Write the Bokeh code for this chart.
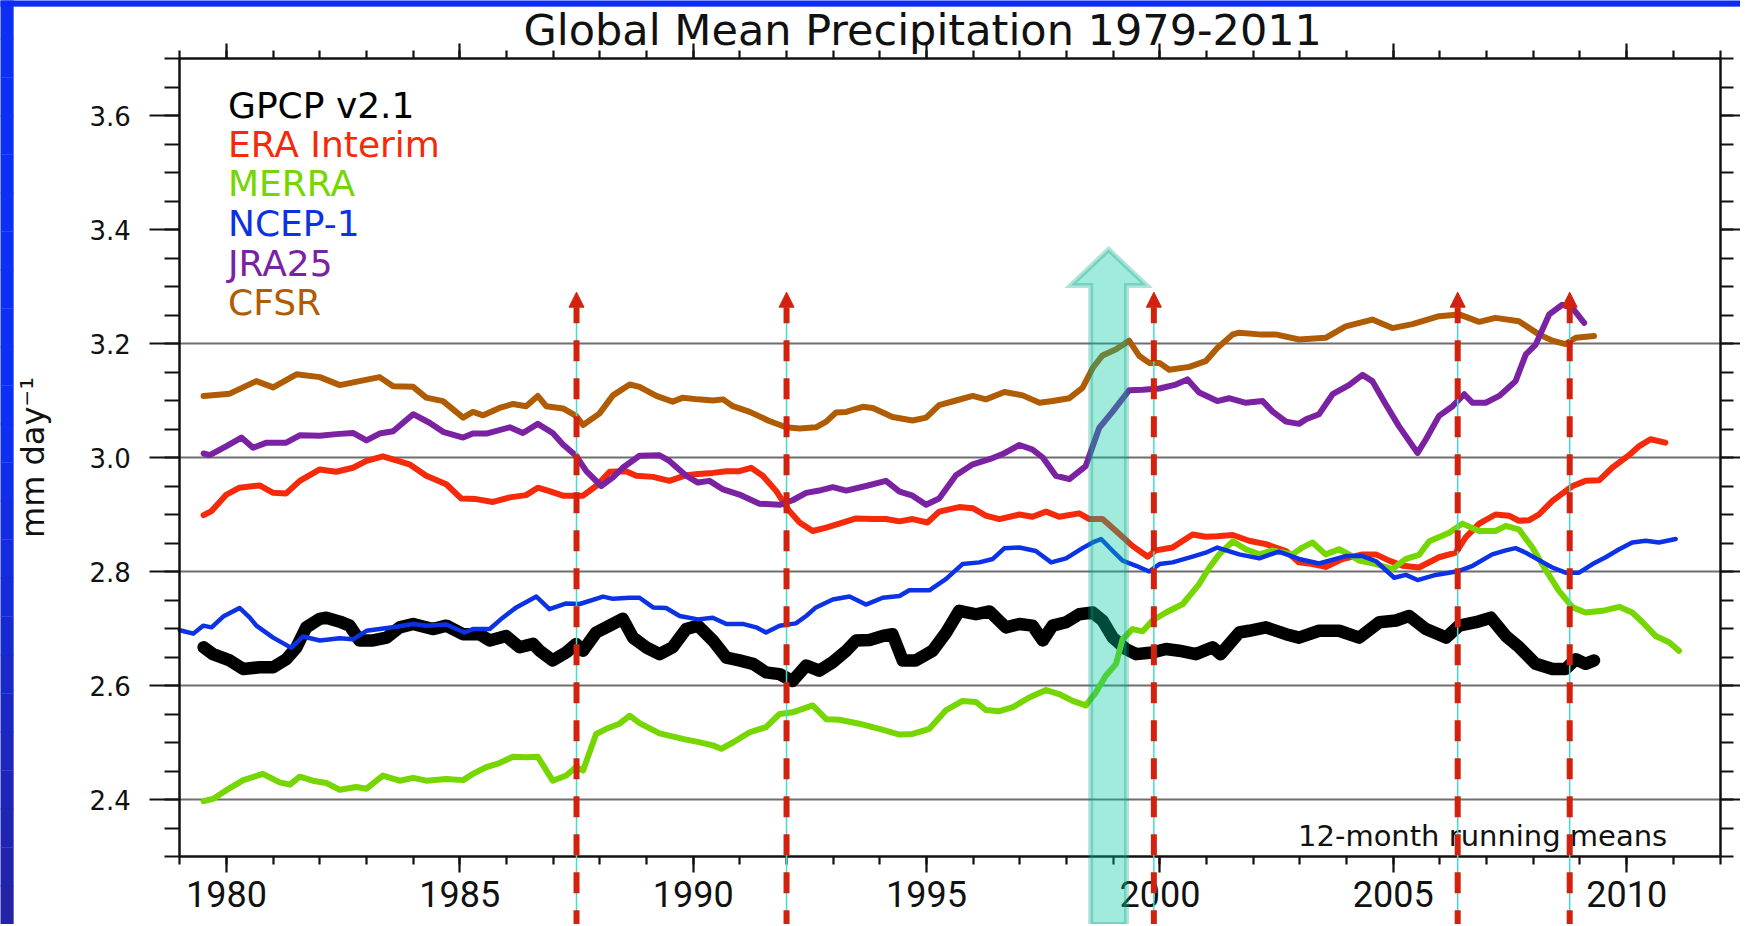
from bokeh.plotting import figure
from bokeh.models import (Range1d, LinearAxis, SingleIntervalTicker, PrintfTickFormatter,
                          Label, Arrow, NormalHead, PolyAnnotation, BoxAnnotation)
from bokeh.embed import file_html
from bokeh.resources import INLINE

# ---------------- data (12-month running means, mm/day) ----------------
gpcp = [(1979.51,2.667),(1979.71,2.655),(1980.07,2.644),(1980.36,2.629),(1980.71,2.632),(1981.0,2.632),
        (1981.28,2.646),(1981.5,2.667),(1981.71,2.702),(1982.0,2.717),(1982.14,2.719),(1982.43,2.712),
        (1982.64,2.705),(1982.85,2.679),(1983.14,2.679),(1983.43,2.684),(1983.71,2.702),(1984.0,2.708),
        (1984.42,2.699),(1984.71,2.705),(1985.07,2.690),(1985.42,2.690),(1985.64,2.679),(1985.99,2.687),
        (1986.28,2.667),(1986.57,2.673),(1986.71,2.661),(1986.99,2.644),(1987.28,2.658),(1987.49,2.673),
        (1987.64,2.661),(1987.92,2.693),(1988.21,2.705),(1988.49,2.717),(1988.71,2.684),(1988.99,2.667),
        (1989.28,2.655),(1989.56,2.667),(1989.85,2.699),(1990.1,2.705),(1990.42,2.679),(1990.71,2.649),
        (1990.99,2.644),(1991.28,2.638),(1991.56,2.623),(1991.85,2.620),(1992.13,2.608),(1992.42,2.635),
        (1992.7,2.626),(1992.99,2.641),(1993.28,2.661),(1993.49,2.679),(1993.78,2.680),(1994.06,2.687),
        (1994.27,2.690),(1994.49,2.644),(1994.77,2.644),(1995.13,2.661),(1995.42,2.693),(1995.7,2.731),
        (1996.06,2.725),(1996.35,2.730),(1996.7,2.702),(1996.99,2.708),(1997.27,2.705),(1997.49,2.679),
        (1997.7,2.705),(1997.99,2.711),(1998.27,2.725),(1998.56,2.728),(1998.77,2.714),(1998.99,2.684),
        (1999.27,2.664),(1999.49,2.655),(1999.84,2.658),(2000.13,2.664),(2000.41,2.661),(2000.77,2.655),
        (2001.13,2.667),(2001.3,2.655),(2001.7,2.693),(2001.91,2.696),(2002.27,2.702),(2002.7,2.690),
        (2002.98,2.684),(2003.41,2.696),(2003.84,2.696),(2004.27,2.684),(2004.7,2.711),(2005.06,2.714),
        (2005.34,2.722),(2005.7,2.699),(2006.13,2.684),(2006.41,2.705),(2006.77,2.711),(2007.09,2.719),
        (2007.41,2.687),(2007.7,2.667),(2008.05,2.638),(2008.41,2.629),(2008.69,2.629),(2008.91,2.646),
        (2009.12,2.638),(2009.3,2.644)]

era_interim = [(1979.51,2.899),(1979.68,2.906),(1980.0,2.935),(1980.28,2.947),(1980.71,2.951),(1981.0,2.938),
        (1981.28,2.937),(1981.57,2.959),(1982.0,2.979),(1982.35,2.975),(1982.71,2.982),(1983.0,2.994),
        (1983.35,3.002),(1983.64,2.995),(1983.92,2.988),(1984.28,2.968),(1984.71,2.953),(1985.03,2.928),
        (1985.35,2.927),(1985.71,2.922),(1986.07,2.930),(1986.42,2.934),(1986.67,2.947),(1986.92,2.941),
        (1987.21,2.933),(1987.64,2.933),(1987.92,2.950),(1988.21,2.975),(1988.56,2.976),(1988.78,2.968),
        (1989.14,2.966),(1989.49,2.959),(1989.85,2.969),(1990.1,2.971),(1990.42,2.973),(1990.71,2.976),
        (1990.99,2.976),(1991.24,2.982),(1991.49,2.968),(1991.78,2.941),(1992.06,2.906),(1992.28,2.886),
        (1992.56,2.871),(1992.85,2.877),(1993.13,2.884),(1993.49,2.893),(1993.85,2.892),(1994.13,2.892),
        (1994.42,2.888),(1994.7,2.892),(1995.02,2.886),(1995.27,2.905),(1995.7,2.913),(1995.99,2.911),
        (1996.27,2.898),(1996.56,2.892),(1996.99,2.900),(1997.27,2.896),(1997.56,2.905),(1997.84,2.896),
        (1998.27,2.902),(1998.49,2.892),(1998.77,2.892),(1999.06,2.871),(1999.41,2.845),(1999.74,2.826),
        (1999.91,2.837),(2000.27,2.842),(2000.7,2.865),(2000.98,2.861),(2001.23,2.862),(2001.56,2.864),
        (2001.91,2.854),(2002.27,2.848),(2002.7,2.836),(2002.98,2.816),(2003.27,2.813),(2003.55,2.808),
        (2003.91,2.822),(2004.34,2.830),(2004.63,2.830),(2004.91,2.819),(2005.2,2.810),(2005.55,2.807),
        (2005.98,2.825),(2006.34,2.833),(2006.55,2.860),(2006.84,2.884),(2007.19,2.900),(2007.48,2.898),
        (2007.69,2.889),(2007.91,2.890),(2008.12,2.900),(2008.41,2.924),(2008.84,2.950),(2009.12,2.959),
        (2009.41,2.960),(2009.69,2.982),(2010.05,3.004),(2010.27,3.020),(2010.51,3.032),(2010.83,3.026)]

merra = [(1979.51,2.397),(1979.71,2.401),(1980.07,2.420),(1980.36,2.434),(1980.78,2.445),(1981.14,2.430),
        (1981.36,2.426),(1981.57,2.440),(1981.85,2.433),(1982.14,2.429),(1982.43,2.417),(1982.78,2.422),
        (1983.0,2.419),(1983.35,2.442),(1983.71,2.433),(1984.0,2.438),(1984.28,2.433),(1984.71,2.436),
        (1985.07,2.434),(1985.28,2.445),(1985.57,2.457),(1985.85,2.464),(1986.14,2.475),(1986.42,2.474),
        (1986.67,2.475),(1986.99,2.433),(1987.28,2.442),(1987.49,2.457),(1987.64,2.451),(1987.92,2.515),
        (1988.14,2.524),(1988.42,2.533),(1988.64,2.547),(1988.85,2.534),(1989.28,2.516),(1989.64,2.509),
        (1989.85,2.505),(1990.1,2.501),(1990.42,2.495),(1990.6,2.489),(1990.85,2.500),(1991.21,2.518),
        (1991.56,2.527),(1991.85,2.550),(1992.13,2.553),(1992.56,2.565),(1992.85,2.541),(1993.13,2.540),
        (1993.56,2.533),(1993.99,2.524),(1994.42,2.514),(1994.7,2.515),(1995.06,2.524),(1995.42,2.557),
        (1995.77,2.573),(1996.06,2.571),(1996.27,2.557),(1996.56,2.555),(1996.85,2.562),(1997.2,2.579),
        (1997.56,2.592),(1997.84,2.585),(1998.13,2.573),(1998.41,2.565),(1998.63,2.588),(1998.84,2.617),
        (1999.06,2.638),(1999.2,2.681),(1999.41,2.699),(1999.63,2.695),(1999.84,2.714),(2000.13,2.728),
        (2000.49,2.743),(2000.84,2.778),(2001.06,2.807),(2001.27,2.830),(2001.56,2.853),(2001.84,2.839),
        (2002.13,2.830),(2002.41,2.837),(2002.84,2.830),(2003.05,2.842),(2003.27,2.851),(2003.55,2.830),
        (2003.84,2.839),(2004.05,2.830),(2004.27,2.819),(2004.63,2.813),(2004.98,2.804),(2005.27,2.822),
        (2005.55,2.829),(2005.77,2.853),(2006.2,2.868),(2006.48,2.884),(2006.84,2.871),(2007.19,2.871),
        (2007.41,2.880),(2007.69,2.874),(2007.98,2.842),(2008.27,2.802),(2008.55,2.766),(2008.84,2.737),
        (2009.12,2.728),(2009.48,2.731),(2009.84,2.738),(2010.12,2.728),(2010.34,2.711),(2010.62,2.687),
        (2010.91,2.676),(2011.12,2.661)]

ncep1 = [(1979.0,2.697),(1979.29,2.691),(1979.5,2.705),(1979.68,2.702),(1979.93,2.721),(1980.28,2.736),
        (1980.5,2.719),(1980.64,2.705),(1981.0,2.684),(1981.39,2.666),(1981.64,2.686),(1982.0,2.679),
        (1982.43,2.683),(1982.71,2.681),(1983.0,2.696),(1983.28,2.699),(1983.64,2.703),(1984.0,2.708),
        (1984.28,2.705),(1984.71,2.707),(1985.1,2.693),(1985.28,2.699),(1985.64,2.699),(1985.92,2.719),
        (1986.21,2.737),(1986.64,2.756),(1986.92,2.734),(1987.28,2.744),(1987.57,2.743),(1988.07,2.756),
        (1988.28,2.752),(1988.64,2.754),(1988.85,2.754),(1989.14,2.737),(1989.42,2.736),(1989.71,2.722),
        (1990.1,2.716),(1990.42,2.719),(1990.71,2.708),(1991.06,2.708),(1991.35,2.702),(1991.56,2.693),
        (1991.85,2.705),(1992.2,2.709),(1992.42,2.722),(1992.63,2.737),(1992.99,2.751),(1993.35,2.756),
        (1993.7,2.742),(1994.06,2.754),(1994.42,2.757),(1994.63,2.767),(1995.06,2.767),(1995.42,2.787),
        (1995.77,2.813),(1996.13,2.816),(1996.42,2.822),(1996.67,2.841),(1996.99,2.842),(1997.34,2.836),
        (1997.67,2.816),(1997.99,2.823),(1998.34,2.841),(1998.56,2.851),(1998.74,2.857),(1998.99,2.836),
        (1999.2,2.819),(1999.49,2.810),(1999.77,2.800),(1999.99,2.813),(2000.27,2.816),(2000.7,2.826),
        (2000.98,2.833),(2001.23,2.842),(2001.7,2.830),(2002.13,2.823),(2002.55,2.835),(2002.98,2.822),
        (2003.41,2.814),(2003.98,2.827),(2004.34,2.827),(2004.63,2.818),(2005.02,2.789),(2005.27,2.794),
        (2005.52,2.785),(2005.91,2.794),(2006.41,2.801),(2006.7,2.810),(2007.12,2.830),(2007.41,2.837),
        (2007.62,2.841),(2007.84,2.833),(2008.12,2.820),(2008.41,2.807),(2008.69,2.798),(2008.98,2.798),
        (2009.27,2.813),(2009.55,2.825),(2009.84,2.839),(2010.12,2.851),(2010.41,2.854),(2010.69,2.851),
        (2011.05,2.857)]

jra25 = [(1979.51,3.007),(1979.64,3.004),(1980.0,3.020),(1980.32,3.035),(1980.57,3.017),(1980.86,3.026),
        (1981.28,3.026),(1981.57,3.039),(1982.0,3.038),(1982.35,3.041),(1982.71,3.043),(1983.0,3.030),
        (1983.28,3.042),(1983.57,3.046),(1984.0,3.076),(1984.35,3.061),(1984.64,3.045),(1985.07,3.035),
        (1985.28,3.042),(1985.57,3.042),(1986.07,3.053),(1986.35,3.043),(1986.67,3.059),(1986.99,3.043),
        (1987.21,3.023),(1987.49,3.003),(1987.71,2.976),(1988.03,2.950),(1988.28,2.965),(1988.49,2.982),
        (1988.85,3.003),(1989.28,3.004),(1989.49,2.994),(1989.85,2.968),(1990.1,2.956),(1990.35,2.959),
        (1990.64,2.944),(1990.99,2.935),(1991.42,2.919),(1991.85,2.917),(1992.13,2.925),(1992.42,2.938),
        (1992.7,2.942),(1992.99,2.948),(1993.28,2.942),(1993.7,2.950),(1994.13,2.959),(1994.42,2.940),
        (1994.7,2.933),(1994.99,2.917),(1995.27,2.928),(1995.63,2.969),(1995.99,2.988),(1996.35,2.997),
        (1996.63,3.006),(1996.99,3.022),(1997.27,3.014),(1997.49,3.000),(1997.77,2.968),(1998.06,2.962),
        (1998.41,2.985),(1998.7,3.052),(1998.99,3.081),(1999.34,3.118),(1999.63,3.119),(1999.99,3.121),
        (2000.34,3.128),(2000.59,3.137),(2000.84,3.114),(2001.23,3.099),(2001.48,3.104),(2001.84,3.096),
        (2002.2,3.099),(2002.41,3.081),(2002.7,3.063),(2002.98,3.059),(2003.13,3.067),(2003.41,3.076),
        (2003.7,3.111),(2004.05,3.127),(2004.34,3.145),(2004.55,3.134),(2004.84,3.093),(2005.12,3.055),
        (2005.52,3.008),(2005.7,3.032),(2005.98,3.073),(2006.27,3.090),(2006.52,3.111),(2006.7,3.096),
        (2006.98,3.096),(2007.27,3.108),(2007.62,3.134),(2007.84,3.181),(2008.05,3.198),(2008.34,3.251),
        (2008.62,3.268),(2008.84,3.262),(2009.09,3.236)]

cfsr = [(1979.51,3.108),(1980.07,3.112),(1980.64,3.134),(1981.0,3.123),(1981.5,3.146),(1982.0,3.141),
        (1982.43,3.127),(1982.85,3.134),(1983.28,3.141),(1983.57,3.125),(1984.0,3.124),(1984.28,3.105),
        (1984.64,3.099),(1985.07,3.070),(1985.28,3.080),(1985.5,3.074),(1985.85,3.087),(1986.14,3.094),
        (1986.42,3.090),(1986.67,3.108),(1986.85,3.090),(1987.21,3.086),(1987.49,3.073),(1987.64,3.057),
        (1987.99,3.077),(1988.28,3.109),(1988.64,3.128),(1988.85,3.124),(1989.21,3.108),(1989.56,3.098),
        (1989.78,3.105),(1990.1,3.102),(1990.42,3.100),(1990.64,3.102),(1990.85,3.090),(1991.21,3.080),
        (1991.63,3.064),(1991.99,3.053),(1992.28,3.051),(1992.63,3.053),(1992.85,3.063),(1993.06,3.079),
        (1993.28,3.080),(1993.63,3.089),(1993.85,3.087),(1994.27,3.071),(1994.7,3.065),(1994.99,3.070),
        (1995.27,3.092),(1995.63,3.100),(1995.99,3.108),(1996.27,3.102),(1996.67,3.115),(1997.06,3.109),
        (1997.42,3.096),(1997.7,3.099),(1998.06,3.104),(1998.34,3.122),(1998.56,3.157),(1998.77,3.179),
        (1999.06,3.190),(1999.34,3.205),(1999.56,3.178),(1999.77,3.166),(1999.99,3.166),(2000.2,3.154),
        (2000.63,3.159),(2000.98,3.169),(2001.23,3.192),(2001.56,3.216),(2001.7,3.219),(2002.13,3.216),
        (2002.48,3.216),(2002.98,3.207),(2003.55,3.210),(2003.98,3.230),(2004.55,3.242),(2004.98,3.227),
        (2005.41,3.234),(2005.98,3.248),(2006.41,3.251),(2006.84,3.238),(2007.19,3.245),(2007.69,3.239),
        (2008.12,3.216),(2008.41,3.205),(2008.69,3.199),(2008.91,3.210),(2009.3,3.213)]

series_names = ["GPCP v2.1", "ERA Interim", "MERRA", "NCEP-1", "JRA25", "CFSR"]
event_years = [1987.5, 1992.0, 1999.87, 2006.38, 2008.78]   # red dashed markers
big_arrow_year = 1998.9                                      # green block arrow
grid_levels = [2.4, 2.6, 2.8, 3.0, 3.2]
title_text = "Global Mean Precipitation 1979-2011"
note_text = "12-month running means"

# ---------------- geometry / styling ----------------
colors = {"GPCP v2.1": "#000000", "ERA Interim": "#f42a0a", "MERRA": "#76d600",
          "NCEP-1": "#0c32e6", "JRA25": "#7b22a2", "CFSR": "#b05c04"}
widths = {"GPCP v2.1": 12.5, "ERA Interim": 6, "MERRA": 6, "NCEP-1": 4.5, "JRA25": 6, "CFSR": 6}
data = {"GPCP v2.1": gpcp, "ERA Interim": era_interim, "MERRA": merra,
        "NCEP-1": ncep1, "JRA25": jra25, "CFSR": cfsr}
draw_order = ["GPCP v2.1", "CFSR", "ERA Interim", "MERRA", "NCEP-1", "JRA25"]

W, H = 1740, 924
FL, FR, FT, FB = 179.3, 1719.5, 58.0, 856.0      # pixel box of the axes
X0, X1, Y0, Y1 = 1979, 2012, 2.3, 3.7
ppy = (FR - FL) / (X1 - X0)
ppu = (FB - FT) / (Y1 - Y0)
xr = Range1d(X0 - FL / ppy, X1 + (W - FR) / ppy)
yr = Range1d(Y0 - (H - FB) / ppu, Y1 + FT / ppu)

def px_x(px):
    return xr.start + px / ppy

def px_y(py):
    return yr.end - py / ppu

def text_y(baseline_px, font_px):
    # Label boxes sit slightly below the requested baseline; compensate
    return px_y(baseline_px - 0.33 * font_px)

p = figure(width=W, height=H, x_range=xr, y_range=yr,
           output_backend="svg", toolbar_location=None,
           background_fill_color="white", border_fill_color="white")
p.min_border = 0
p.min_border_left = p.min_border_right = p.min_border_top = p.min_border_bottom = 0
p.outline_line_color = None
p.xgrid.visible = False
p.ygrid.visible = False

xt = SingleIntervalTicker(interval=5, num_minor_ticks=5)
yt = SingleIntervalTicker(interval=0.2, num_minor_ticks=4)

def style_axis(ax, major_out, minor_out):
    ax.axis_line_color = "#111111"
    ax.axis_line_width = 2.5
    ax.major_tick_line_color = "#111111"
    ax.minor_tick_line_color = "#111111"
    ax.major_tick_line_width = 2.2
    ax.minor_tick_line_width = 2.2
    ax.major_tick_in = 0
    ax.minor_tick_in = 0
    ax.major_tick_out = major_out
    ax.minor_tick_out = minor_out

xa = p.xaxis[0]
xa.ticker = xt
xa.fixed_location = Y0
xa.bounds = (X0, X1)
style_axis(xa, 16, 8)
xa.major_label_text_font = "Roboto"
xa.major_label_text_font_size = "36px"
xa.major_label_text_color = "#111111"
xa.major_label_standoff = 8

ya = p.yaxis[0]
ya.ticker = yt
ya.fixed_location = X0
ya.bounds = (Y0, Y1)
ya.formatter = PrintfTickFormatter(format="%.1f")
style_axis(ya, 30, 15)
ya.major_label_text_font = "DejaVu Sans"
ya.major_label_text_font_size = "26px"
ya.major_label_text_color = "#111111"
ya.major_label_standoff = 19
ya.axis_label = "mm day\u207b\u00b9"
ya.axis_label_text_font = "DejaVu Sans"
ya.axis_label_text_font_size = "32px"
ya.axis_label_text_font_style = "normal"
ya.axis_label_text_color = "#111111"
ya.axis_label_standoff = 34

top = LinearAxis(ticker=xt, fixed_location=Y1, bounds=(X0, X1),
                 major_label_text_color=None, major_label_text_alpha=0)
style_axis(top, 15, 8)
p.add_layout(top, "above")
right = LinearAxis(ticker=yt, fixed_location=X1, bounds=(Y0, Y1),
                   major_label_text_color=None, major_label_text_alpha=0)
style_axis(right, 24, 13)
p.add_layout(right, "right")

# ---------------- grid lines (only within the axes box) ----------------
p.segment(x0=[X0] * len(grid_levels), y0=grid_levels, x1=[X1] * len(grid_levels), y1=grid_levels,
          line_color="#6e6e6e", line_width=2)

# ---------------- curves ----------------
for name in draw_order:
    xs = [d[0] for d in data[name]]
    ys = [d[1] for d in data[name]]
    p.line(xs, ys, line_color=colors[name], line_width=widths[name],
           line_join="round", line_cap="round")

# ---------------- texts ----------------
legend_font = 36
legend_px_x = 227.5
legend_px_baselines = [116.7, 156.0, 195.3, 234.8, 274.5, 313.5]
for name, by in zip(series_names, legend_px_baselines):
    p.add_layout(Label(x=px_x(legend_px_x), y=text_y(by, legend_font), text=name,
                       text_color=colors[name], text_font="DejaVu Sans",
                       text_font_size="%dpx" % legend_font, text_baseline="alphabetic"))

note_font = 29
p.add_layout(Label(x=px_x(1666.7), y=text_y(845.0, note_font), text=note_text, text_align="right",
                   text_color="#111111", text_font="DejaVu Sans", text_font_size="%dpx" % note_font,
                   text_baseline="alphabetic"))

title_font = 43
p.add_layout(Label(x=px_x(523.0), y=text_y(44.0, title_font), text=title_text,
                   text_color="#111111", text_font="DejaVu Sans", text_font_size="%dpx" % title_font,
                   text_baseline="alphabetic"))

# ---------------- event markers ----------------
bottom_val = yr.start
red = "#d2220e"
head_px = 15
tip_val = px_y(291.7)
for e in event_years:
    p.add_layout(Arrow(x_start=e, y_start=tip_val - head_px / ppu, x_end=e, y_end=bottom_val,
                       start=None, end=None, line_color="#3fe0cc", line_width=1.5))
    p.add_layout(Arrow(x_start=e, y_start=tip_val, x_end=e, y_end=bottom_val,
                       start=NormalHead(size=head_px, fill_color=red, line_color=red, line_width=1),
                       end=None, line_color=red, line_width=6, line_dash="21 17",
                       line_dash_offset=28))

c = big_arrow_year
hw = 17.9 / ppy
hhw = 38.0 / ppy
tip = px_y(249.0)
base = px_y(285.0)
p.add_layout(PolyAnnotation(xs=[c - hw, c - hw, c - hhw, c, c + hhw, c + hw, c + hw],
                            ys=[bottom_val, base, base, tip, base, base, bottom_val],
                            fill_color="#00c9a1", fill_alpha=0.37,
                            line_color="#00a080", line_width=5, line_join="miter"))

# ---------------- slide background strips (blue) ----------------
n_bands = 24
top_rgb = (13, 47, 245)
bot_rgb = (36, 34, 165)
for i in range(n_bands):
    f = i / (n_bands - 1)
    g = max(0.0, (f - 0.45) / 0.55)
    rgb = tuple(int(round(a + (b - a) * g)) for a, b in zip(top_rgb, bot_rgb))
    p.add_layout(BoxAnnotation(left=xr.start - 1.0, right=px_x(13.0),
                               top=px_y(H * i / n_bands) + (1.0 if i == 0 else 0.0),
                               bottom=px_y(H * (i + 1) / n_bands) - (1.0 if i == n_bands - 1 else 0.0),
                               fill_color="#%02x%02x%02x" % rgb, fill_alpha=1.0,
                               line_color="#%02x%02x%02x" % rgb, line_width=1))
p.add_layout(BoxAnnotation(left=xr.start - 1.0, right=xr.end + 1.0, top=yr.end + 1.0, bottom=px_y(6.0),
                           fill_color="#0c2cf6", fill_alpha=1.0, line_color="#0c2cf6", line_width=1))

open("out.html", "w").write(file_html(p, INLINE))
